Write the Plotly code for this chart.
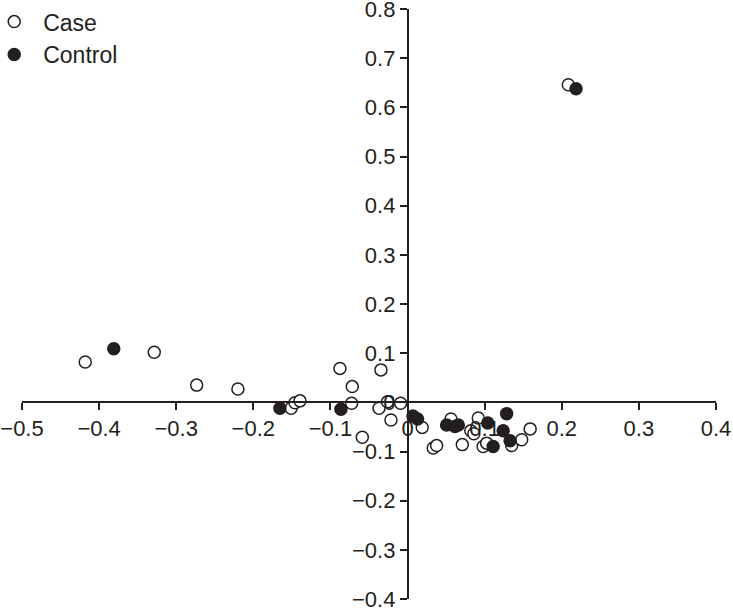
import plotly.graph_objects as go

case_x = [-0.418, -0.3285, -0.2735, -0.220, -0.151, -0.146, -0.1395, -0.0877, -0.0717,
          -0.0725, -0.0345, -0.0587, -0.037, -0.026, -0.009, -0.0215, 0.019, 0.0333,
          0.0377, 0.0563, 0.071, 0.082, 0.086, 0.0917, 0.098, 0.1026, 0.135, 0.148,
          0.159, 0.2085]
case_y = [0.082, 0.102, 0.035, 0.027, -0.012, -0.001, 0.003, 0.069, 0.032,
          -0.002, 0.066, -0.071, -0.012, 0.001, -0.002, -0.036, -0.051, -0.093,
          -0.088, -0.034, -0.086, -0.058, -0.064, -0.032, -0.090, -0.083, -0.088, -0.076,
          -0.054, 0.646]

control_x = [-0.381, -0.1655, -0.0864, 0.007, 0.013, 0.0507, 0.0615, 0.0658, 0.104,
             0.1285, 0.124, 0.111, 0.133, 0.2185]
control_y = [0.109, -0.012, -0.014, -0.028, -0.034, -0.046, -0.049, -0.046, -0.042,
             -0.023, -0.058, -0.090, -0.078, 0.638]

x_ticks = [-0.5, -0.4, -0.3, -0.2, -0.1, 0, 0.1, 0.2, 0.3, 0.4]
y_ticks = [-0.4, -0.3, -0.2, -0.1, 0, 0.1, 0.2, 0.3, 0.4, 0.5, 0.6, 0.7, 0.8]

x_range = [-0.5, 0.4]
y_range = [-0.4, 0.8]

ink = "#231f20"
font = dict(family="Liberation Sans, Arial, sans-serif", size=22, color=ink)

fig = go.Figure()
fig.add_trace(go.Scatter(
    x=case_x, y=case_y, mode="markers", name="Case",
    marker=dict(symbol="circle", size=12, color="white", line=dict(color=ink, width=1.5)),
))
fig.add_trace(go.Scatter(
    x=control_x, y=control_y, mode="markers", name="Control",
    marker=dict(symbol="circle", size=12, color=ink, line=dict(color=ink, width=1.5)),
))

fig.update_layout(
    width=733, height=610,
    margin=dict(l=22, r=17, t=9, b=11, autoexpand=False),
    paper_bgcolor="white", plot_bgcolor="white",
    font=font,
    showlegend=True,
    legend=dict(x=-0.053, y=1.015,
                xanchor="left", yanchor="top", itemwidth=48,
                font=dict(size=23, color=ink), bgcolor="rgba(0,0,0,0)",
                tracegroupgap=0),
    xaxis=dict(
        range=x_range, tickvals=x_ticks, showgrid=False, zeroline=False,
        showline=True, linecolor=ink, linewidth=1.5,
        ticks="outside", ticklen=7, tickwidth=1.5, tickcolor=ink,
        anchor="free", position=(0 - y_range[0]) / (y_range[1] - y_range[0]),
        automargin=False, tickfont=font, ticklabeloverflow="allow",
    ),
    yaxis=dict(
        range=y_range, tickvals=y_ticks, showgrid=False, zeroline=False,
        showline=True, linecolor=ink, linewidth=1.5,
        ticks="outside", ticklen=7, tickwidth=1.5, tickcolor=ink,
        anchor="free", position=(0 - x_range[0]) / (x_range[1] - x_range[0]),
        automargin=False, tickfont=font, ticklabeloverflow="allow",
    ),
)

fig.write_html("out.html", config={"displayModeBar": False},
               post_script="document.body.style.margin='0';")
